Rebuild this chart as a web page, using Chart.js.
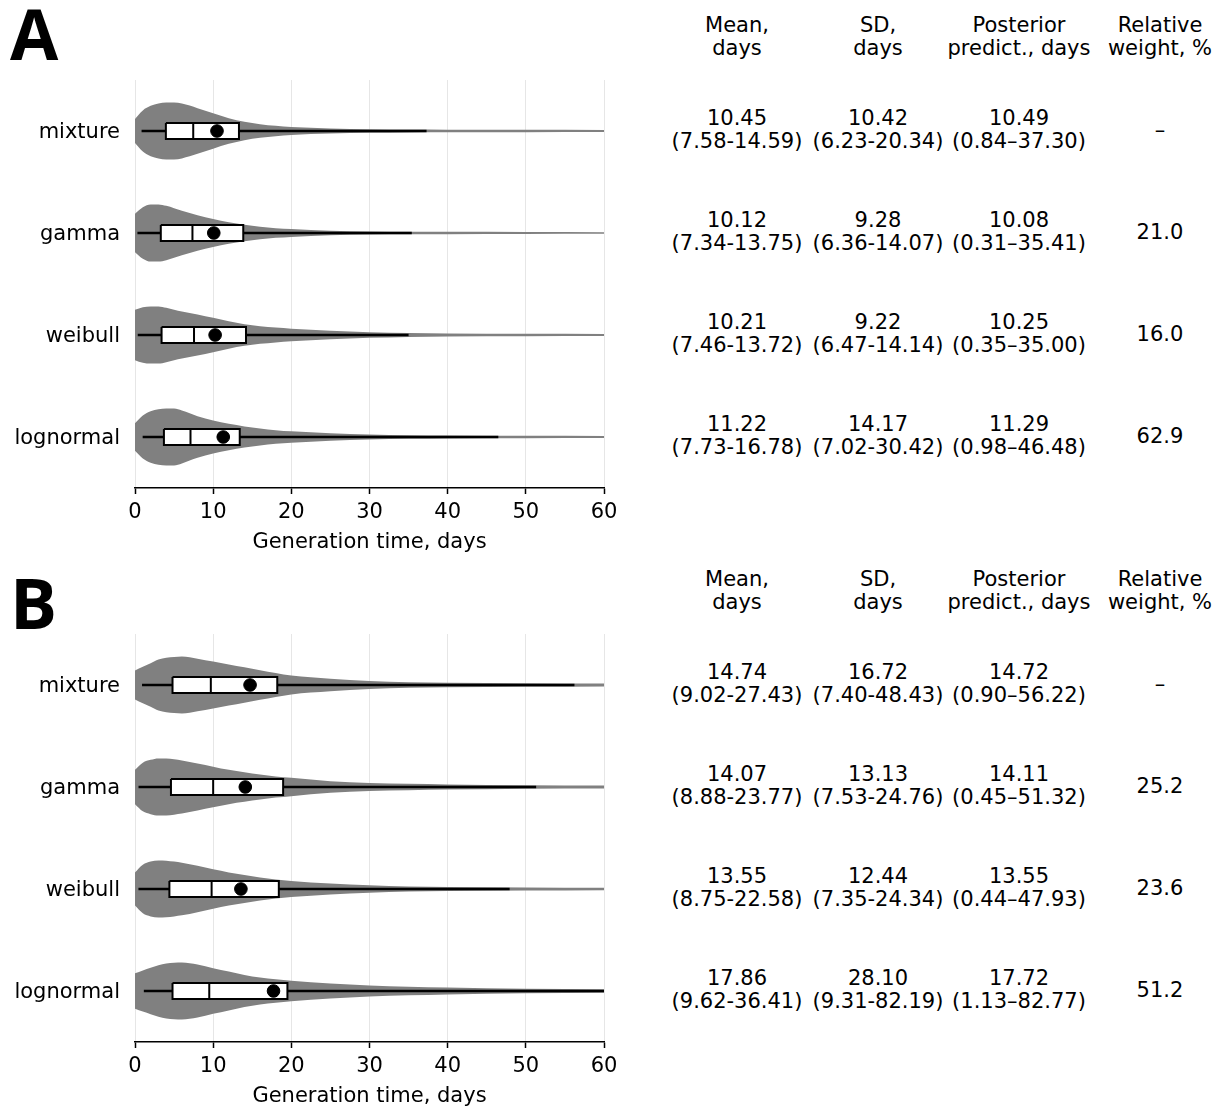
<!DOCTYPE html>
<html><head><meta charset="utf-8">
<script src="https://cdn.jsdelivr.net/npm/chart.js@4.4.0/dist/chart.umd.min.js"></script>
<style>
html,body{margin:0;padding:0;background:#fff;}
body{width:1222px;height:1107px;position:relative;overflow:hidden;font-family:'DejaVu Sans',sans-serif;color:#000;}
canvas{position:absolute;left:0;}
.t{position:absolute;transform:translateX(-50%);text-align:center;font-size:21px;line-height:23px;white-space:pre;color:#000;}
.letter{position:absolute;left:10px;font-family:'Open Sans',sans-serif;font-weight:700;font-size:70px;line-height:70px;}
</style></head>
<body>
<canvas id="cA" width="640" height="560" style="top:0px"></canvas>
<canvas id="cB" width="640" height="560" style="top:554px"></canvas>
<div class="letter" style="top:-2px">A</div>
<div class="letter" style="top:567px">B</div>
<script>
// ---------- data ----------
const ROWS = ['mixture', 'gamma', 'weibull', 'lognormal'];
const X_TICKS = [0, 10, 20, 30, 40, 50, 60];
const X_TITLE = 'Generation time, days';
const HEADERS = ['Mean,\ndays', 'SD,\ndays', 'Posterior\npredict., days', 'Relative\nweight, %'];

// violin density (normalised to max 1) sampled at these days
const DAYS = [0, 1, 2, 3, 4, 5, 6, 8, 10, 12, 14, 16, 18, 20, 25, 30, 35, 40, 50, 60];
const densA_mixture   = [0.42,0.72,0.88,0.96,1.00,1.00,0.96,0.80,0.62,0.45,0.32,0.24,0.18,0.14,0.09,0.065,0.05,0.045,0.04,0.035];
const densA_gamma     = [0.67,0.90,1.00,1.00,0.95,0.87,0.78,0.62,0.49,0.38,0.29,0.22,0.17,0.14,0.08,0.055,0.045,0.04,0.035,0.03];
const densA_weibull   = [0.88,0.97,1.00,1.00,0.95,0.88,0.82,0.72,0.60,0.48,0.38,0.31,0.26,0.22,0.15,0.10,0.07,0.05,0.04,0.035];
const densA_lognormal = [0.48,0.75,0.90,0.97,1.00,1.00,0.93,0.73,0.58,0.46,0.37,0.30,0.24,0.20,0.13,0.09,0.065,0.05,0.04,0.035];
const densB_mixture   = [0.51,0.64,0.76,0.89,0.95,0.98,1.00,0.92,0.82,0.72,0.62,0.52,0.42,0.33,0.22,0.14,0.10,0.08,0.06,0.05];
const densB_gamma     = [0.60,0.85,0.95,1.00,1.00,0.97,0.93,0.82,0.71,0.60,0.52,0.44,0.37,0.32,0.20,0.14,0.11,0.09,0.06,0.05];
const densB_weibull   = [0.58,0.85,0.96,1.00,0.99,0.96,0.92,0.81,0.69,0.58,0.49,0.40,0.33,0.28,0.19,0.13,0.09,0.07,0.05,0.04];
const densB_lognormal = [0.62,0.72,0.81,0.90,0.96,0.99,1.00,0.93,0.80,0.68,0.56,0.47,0.41,0.36,0.26,0.19,0.15,0.12,0.08,0.06];

// box plot quartiles
const q1A  = [3.95, 3.3, 3.4, 3.7];
const medA = [7.45, 7.35, 7.55, 7.1];
const q3A  = [13.3, 13.85, 14.2, 13.4];
const q1B  = [4.8, 4.6, 4.4, 4.8];
const medB = [9.7, 10.0, 9.8, 9.5];
const q3B  = [18.2, 18.95, 18.4, 19.5];

// table values, panel A
const meanA = [10.45, 10.12, 10.21, 11.22];
const meanLoA = [7.58, 7.34, 7.46, 7.73];
const meanHiA = [14.59, 13.75, 13.72, 16.78];
const sdA = [10.42, 9.28, 9.22, 14.17];
const sdLoA = [6.23, 6.36, 6.47, 7.02];
const sdHiA = [20.34, 14.07, 14.14, 30.42];
const ppA = [10.49, 10.08, 10.25, 11.29];
const ppLoA = [0.84, 0.31, 0.35, 0.98];
const ppHiA = [37.30, 35.41, 35.00, 46.48];
const weightA = [null, 21.0, 16.0, 62.9];

// table values, panel B
const meanB = [14.74, 14.07, 13.55, 17.86];
const meanLoB = [9.02, 8.88, 8.75, 9.62];
const meanHiB = [27.43, 23.77, 22.58, 36.41];
const sdB = [16.72, 13.13, 12.44, 28.10];
const sdLoB = [7.40, 7.53, 7.35, 9.31];
const sdHiB = [48.43, 24.76, 24.34, 82.19];
const ppB = [14.72, 14.11, 13.55, 17.72];
const ppLoB = [0.90, 0.45, 0.44, 1.13];
const ppHiB = [56.22, 51.32, 47.93, 82.77];
const weightB = [null, 25.2, 23.6, 51.2];

// ---------- style ----------
const GREY = '#808080';
const GRID = '#e6e6e6';
const VW = 0.28;   // violin max half-width (row units)
const BH = 0.078;  // box half-height (row units)
const COL_X = [737, 878, 1019, 1160];
const NONE = 'rgba(0,0,0,0)';

Chart.defaults.font.family = "'DejaVu Sans', sans-serif";
Chart.defaults.font.size = 21;
Chart.defaults.color = '#000';

function buildDatasets(dens, q1, med, q3, mean, lo, hi) {
  const ds = [];
  ROWS.forEach((r, i) => {
    ds.push({data: [{x: mean[i], y: i}], showLine: false, pointRadius: 6.3, pointHoverRadius: 6.3,
      pointBackgroundColor: '#000', pointBorderColor: '#000', pointBorderWidth: 1, order: 1});
    ds.push({data: [{x: med[i], y: i - BH}, {x: med[i], y: i + BH}], borderColor: '#000', borderWidth: 2,
      pointRadius: 0, order: 2});
    ds.push({data: [{x: q1[i], y: i - BH}, {x: q3[i], y: i - BH}, {x: q3[i], y: i + BH}, {x: q1[i], y: i + BH}, {x: q1[i], y: i - BH}],
      borderColor: '#000', borderWidth: 2, borderJoinStyle: 'miter', pointRadius: 0, order: 2});
    ds.push({data: [{x: q1[i], y: i - BH}, {x: q3[i], y: i - BH}], borderColor: NONE, borderWidth: 0,
      pointRadius: 0, fill: '+1', backgroundColor: '#fff', order: 3});
    ds.push({data: [{x: q1[i], y: i + BH}, {x: q3[i], y: i + BH}], borderColor: NONE, borderWidth: 0,
      pointRadius: 0, fill: false, order: 3});
    ds.push({data: [{x: lo[i], y: i}, {x: hi[i], y: i}], borderColor: '#000', borderWidth: 2.5,
      pointRadius: 0, order: 4});
    ds.push({data: DAYS.map((d, k) => ({x: d, y: i - dens[i][k] * VW})), borderColor: NONE, borderWidth: 0,
      pointRadius: 0, fill: '+1', backgroundColor: GREY, cubicInterpolationMode: 'monotone', order: 5});
    ds.push({data: DAYS.map((d, k) => ({x: d, y: i + dens[i][k] * VW})), borderColor: NONE, borderWidth: 0,
      pointRadius: 0, fill: false, cubicInterpolationMode: 'monotone', order: 5});
  });
  return ds;
}

function makeChart(id, dens, q1, med, q3, mean, lo, hi) {
  return new Chart(document.getElementById(id), {
    type: 'line',
    data: {datasets: buildDatasets(dens, q1, med, q3, mean, lo, hi)},
    options: {
      responsive: false, animation: false, events: [],
      layout: {padding: {left: 0, top: 80, right: 36, bottom: 0}},
      plugins: {legend: {display: false}, tooltip: {enabled: false}},
      scales: {
        x: {
          type: 'linear', min: 0, max: 60,
          afterBuildTicks: s => { s.ticks = X_TICKS.map(v => ({value: v})); },
          afterFit: s => { s.height = 72; },
          grid: {color: GRID, lineWidth: 1, tickColor: '#000', tickLength: 6, tickWidth: 1.5},
          border: {display: true, color: '#000', width: 1.5},
          ticks: {padding: 6, maxRotation: 0, autoSkip: false, color: '#000'},
          title: {display: true, text: X_TITLE, color: '#000', padding: {top: 0, bottom: 5}}
        },
        y: {
          type: 'linear', min: -0.5, max: 3.5, reverse: true,
          afterBuildTicks: s => { s.ticks = ROWS.map((r, i) => ({value: i})); },
          afterFit: s => { s.width = 135; },
          grid: {display: false, drawTicks: false},
          border: {display: false},
          ticks: {padding: 15, labelOffset: 2, autoSkip: false, color: '#000', callback: v => ROWS[v]}
        }
      }
    }
  });
}

const chartA = makeChart('cA', [densA_mixture, densA_gamma, densA_weibull, densA_lognormal], q1A, medA, q3A, ppA, ppLoA, ppHiA);
const chartB = makeChart('cB', [densB_mixture, densB_gamma, densB_weibull, densB_lognormal], q1B, medB, q3B, ppB, ppLoB, ppHiB);

function addText(txt, cx, top) {
  const d = document.createElement('div');
  d.className = 't';
  d.textContent = txt;
  d.style.left = cx + 'px';
  d.style.top = top + 'px';
  document.body.appendChild(d);
}

function addTable(chart, canvasTop, mean, mLo, mHi, sd, sLo, sHi, pp, pLo, pHi, w) {
  const ys = ROWS.map((r, i) => chart.scales.y.getPixelForValue(i) + canvasTop);
  HEADERS.forEach((h, c) => addText(h, COL_X[c], ys[0] - 117.5));
  ROWS.forEach((r, i) => {
    const top = ys[i] - 24;
    addText(mean[i].toFixed(2) + '\n(' + mLo[i].toFixed(2) + '-' + mHi[i].toFixed(2) + ')', COL_X[0], top);
    addText(sd[i].toFixed(2) + '\n(' + sLo[i].toFixed(2) + '-' + sHi[i].toFixed(2) + ')', COL_X[1], top);
    addText(pp[i].toFixed(2) + '\n(' + pLo[i].toFixed(2) + '\u2013' + pHi[i].toFixed(2) + ')', COL_X[2], top);
    addText(w[i] === null ? '\u2013' : w[i].toFixed(1), COL_X[3], ys[i] - 12);
  });
}

addTable(chartA, 0, meanA, meanLoA, meanHiA, sdA, sdLoA, sdHiA, ppA, ppLoA, ppHiA, weightA);
addTable(chartB, 554, meanB, meanLoB, meanHiB, sdB, sdLoB, sdHiB, ppB, ppLoB, ppHiB, weightB);
</script>
</body></html>
